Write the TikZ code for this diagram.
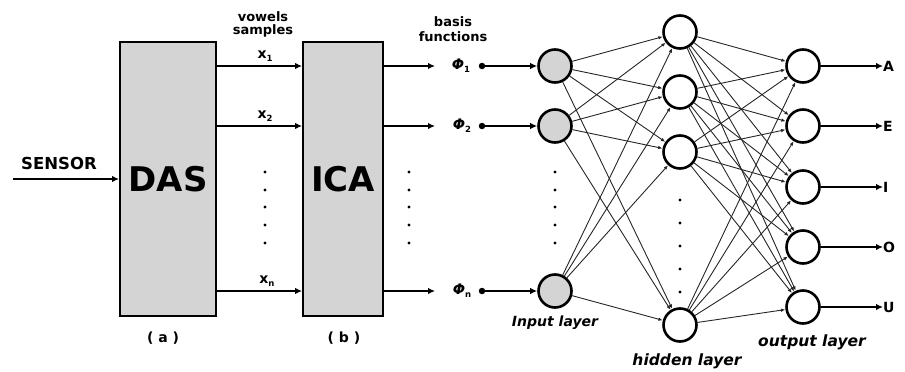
\documentclass[tikz,border=0pt]{standalone}
\usepackage{fontspec}
\usepackage{graphicx}
\setmainfont{DejaVu Sans}
\usetikzlibrary{arrows.meta}
\definecolor{boxgray}{HTML}{D4D4D4}
\definecolor{linegray}{HTML}{262626}
\newcommand{\fs}[1]{\fontsize{#1}{#1}\selectfont}
\newcommand{\mysub}[2]{{\fs{14}\bfseries #1}\raisebox{-3pt}{\fs{8.5}\bfseries #2}}
\newcommand{\myphi}[1]{{\fs{14.5}\bfseries\itshape Φ}\raisebox{-3pt}{\fs{8.5}\bfseries #1}}
\begin{document}
\begin{tikzpicture}[x=1pt,y=-1pt,
  blockbox/.style={draw, line width=1.8pt, fill=boxgray, inner sep=0pt, font=\fs{34}\bfseries},
  neuron/.style={circle, draw, line width=2.6pt, minimum size=33pt, inner sep=0pt, fill=white},
  inneuron/.style={neuron, fill=boxgray},
  bigarrow/.style={line width=2.3pt, -{Latex[length=7pt,width=6.5pt]}},
  conn/.style={line width=0.9pt, draw=linegray, -{Latex[length=4.5pt,width=3.5pt]}},
  vdot/.style={circle, fill=black, inner sep=0pt, minimum size=3.4pt},
  lab/.style={inner sep=0pt, font=\fs{13}\bfseries},
  itlab/.style={inner sep=0pt, font=\fs{15.5}\bfseries\itshape}
]
\useasboundingbox (0,0) rectangle (905,372);

% blocks
\node[blockbox, minimum width=96pt, minimum height=274pt] (das) at (168,179) {DAS};
\node[blockbox, minimum width=80pt, minimum height=274pt] (ica) at (343,179) {ICA};

% sensor
\coordinate (sin) at (13,179);
\node[lab, font=\fs{16.5}\bfseries] (sensor) at (59,163) {SENSOR};
\draw[bigarrow] (sin) -- (das.west);

% row coordinates
\coordinate (r1) at (0,66);
\coordinate (r2) at (0,126);
\coordinate (rn) at (0,291);

% DAS -> ICA
\foreach \r in {r1,r2,rn} {
  \draw[bigarrow] (das.east |- \r) -- (ica.west |- \r);
}
\node[lab] (vw) at (263,17) {vowels};
\node[lab] (sp) at (263,31) {samples};
\node[inner sep=0pt] (x1) at (265,56) {\mysub{x}{1}};
\node[inner sep=0pt] (x2) at (265,116) {\mysub{x}{2}};
\node[inner sep=0pt] (xn) at (267,281) {\mysub{x}{n}};

% dots
\foreach \yy [count=\k] in {172,190,207,225,243} {
  \node[vdot] (da\k) at (265,\yy) {};
  \node[vdot] (db\k) at (409,\yy) {};
  \node[vdot] (dc\k) at (555,\yy) {};
}
\foreach \yy [count=\k] in {200,223,246,269,292} {
  \node[vdot] (dh\k) at (680,\yy) {};
}

% basis functions
\node[lab] (bs) at (453,22) {basis};
\node[lab] (fn) at (453,37) {functions};

\node[inner sep=0pt] (p1) at (461,66) {\myphi{1}};
\node[inner sep=0pt] (p2) at (462,126) {\myphi{2}};
\node[inner sep=0pt] (pn) at (462,291) {\myphi{n}};

\node[vdot, minimum size=6.5pt] (q1) at (482,66) {};
\node[vdot, minimum size=6.5pt] (q2) at (482,126) {};
\node[vdot, minimum size=6.5pt] (qn) at (482,291) {};

% input layer
\node[inneuron] (i1) at (555,66) {};
\node[inneuron] (i2) at (555,126) {};
\node[inneuron] (i3) at (555,291) {};

\coordinate (e1) at (435,66);
\coordinate (e2) at (435,126);
\coordinate (en) at (435,291);
\draw[bigarrow] (ica.east |- r1) -- (e1);
\draw[bigarrow] (ica.east |- r2) -- (e2);
\draw[bigarrow] (ica.east |- rn) -- (en);
\draw[bigarrow] (q1) -- (i1);
\draw[bigarrow] (q2) -- (i2);
\draw[bigarrow] (qn) -- (i3);

% hidden layer
\node[neuron] (h1) at (680,32) {};
\node[neuron] (h2) at (680,92) {};
\node[neuron] (h3) at (680,152) {};
\node[neuron] (h4) at (680,325) {};

% output layer
\node[neuron] (o1) at (803,66) {};
\node[neuron] (o2) at (803,126) {};
\node[neuron] (o3) at (803,187) {};
\node[neuron] (o4) at (803,247) {};
\node[neuron] (o5) at (803,307) {};

% connections
\foreach \i in {1,2,3} {
  \foreach \j in {1,2,3,4} {
    \draw[conn] (i\i) -- (h\j);
  }
}
\foreach \j in {1,2,3,4} {
  \foreach \k in {1,2,3,4,5} {
    \draw[conn] (h\j) -- (o\k);
  }
}

% outputs
\foreach \k/\t/\yy in {1/A/66,2/E/126,3/I/187,4/O/247,5/U/307} {
  \node[lab, font=\fs{14}\bfseries, anchor=west] (v\k) at (883,\yy) {\t};
  \draw[bigarrow] (o\k) -- (v\k.west);
}

% layer labels
\node[itlab, font=\fs{14}\bfseries\itshape] (il) at (555,323) {Input layer};
\node[itlab] (hl) at (687,361) {hidden layer};
\node[itlab] (ol) at (812,342) {output layer};

\node[lab, font=\fs{14}\bfseries] (la) at (163,338) {( a )};
\node[lab, font=\fs{14}\bfseries] (lb) at (344,338) {( b )};
\end{tikzpicture}
\end{document}
